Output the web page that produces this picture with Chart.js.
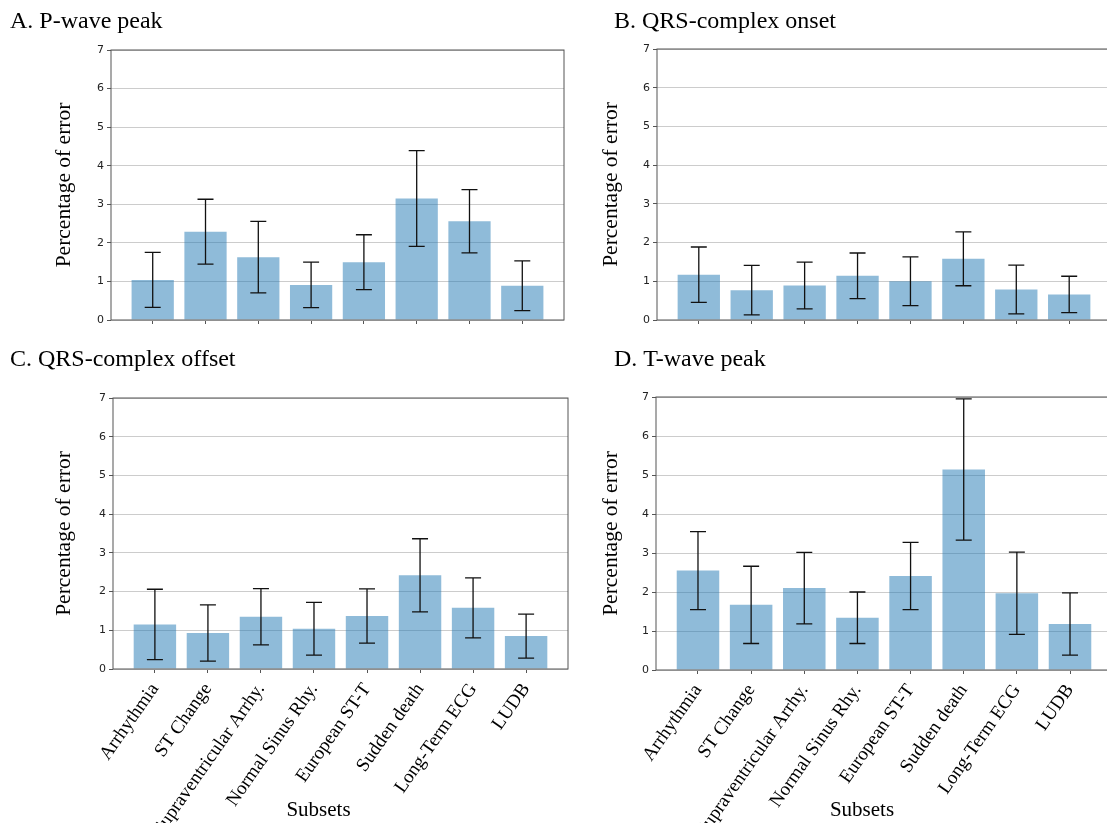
<!DOCTYPE html>
<html>
<head>
<meta charset="utf-8">
<script src="https://cdn.jsdelivr.net/npm/chart.js@4.4.1/dist/chart.umd.min.js"></script>
<style>
  html, body { margin: 0; padding: 0; background: #fff; overflow: hidden; }
  body { width: 1107px; height: 823px; position: relative; }
  canvas { position: absolute; }
</style>
</head>
<body>
<canvas id="chartA" width="580" height="340" style="left:0;top:0"></canvas>
<canvas id="chartB" width="540" height="340" style="left:580px;top:0"></canvas>
<canvas id="chartC" width="580" height="483" style="left:0;top:340px"></canvas>
<canvas id="chartD" width="540" height="483" style="left:580px;top:340px"></canvas>
<script>
const subsets = ['Arrhythmia', 'ST Change', 'Supraventricular Arrhy.', 'Normal Sinus Rhy.',
    'European ST-T', 'Sudden death', 'Long-Term ECG', 'LUDB'];

// mean error and std per subset, one pair per panel
const pWaveMean = [1.04, 2.29, 1.63, 0.91, 1.50, 3.15, 2.56, 0.89];
const pWaveSd = [0.715, 0.84, 0.925, 0.59, 0.71, 1.24, 0.82, 0.645];
const qrsOnMean = [1.17, 0.77, 0.89, 1.14, 1.00, 1.58, 0.79, 0.66];
const qrsOnSd = [0.715, 0.64, 0.605, 0.59, 0.63, 0.695, 0.63, 0.47];
const qrsOffMean = [1.15, 0.93, 1.35, 1.04, 1.37, 2.42, 1.58, 0.85];
const qrsOffSd = [0.91, 0.725, 0.725, 0.68, 0.70, 0.945, 0.775, 0.57];
const tWaveMean = [2.55, 1.67, 2.10, 1.34, 2.41, 5.14, 1.97, 1.18];
const tWaveSd = [1.0, 0.99, 0.915, 0.66, 0.86, 1.81, 1.055, 0.80];

const yTicksMax = 7;

const serif = 'Liberation Serif';

const errorBarPlugin = {
    id: 'errorBars',
    afterDatasetsDraw(chart) {
        const ctx = chart.ctx;
        const y = chart.scales.y;
        chart.data.datasets.forEach((ds, di) => {
            const meta = chart.getDatasetMeta(di);
            meta.data.forEach((bar, i) => {
                const m = ds.data[i].y;
                const e = ds.errors[i];
                const top = y.getPixelForValue(m + e);
                const bot = y.getPixelForValue(m - e);
                const cap = 8;
                ctx.save();
                ctx.strokeStyle = '#111';
                ctx.lineWidth = 1.3;
                ctx.beginPath();
                ctx.moveTo(bar.x, top);
                ctx.lineTo(bar.x, bot);
                ctx.moveTo(bar.x - cap, top);
                ctx.lineTo(bar.x + cap, top);
                ctx.moveTo(bar.x - cap, bot);
                ctx.lineTo(bar.x + cap, bot);
                ctx.stroke();
                ctx.restore();
            });
        });
    }
};

const framePlugin = {
    id: 'frame',
    afterDraw(chart) {
        const {ctx, chartArea: a} = chart;
        ctx.save();
        ctx.strokeStyle = '#555';
        ctx.lineWidth = 1;
        ctx.strokeRect(a.left, a.top, a.right - a.left, a.bottom - a.top);
        ctx.restore();
    }
};

// x axis label, sits a little left of the axes centre like in the source figure
const xLabelPlugin = {
    id: 'xLabel',
    afterDraw(chart, args, opts) {
        if (!opts.text) return;
        const {ctx, chartArea: a} = chart;
        ctx.save();
        ctx.font = `${opts.size}px "${serif}"`;
        ctx.fillStyle = '#000';
        ctx.textAlign = 'center';
        ctx.textBaseline = 'middle';
        ctx.fillText(opts.text, (a.left + a.right) / 2 + opts.shift, chart.height - opts.bottom);
        ctx.restore();
    }
};

function makePanel(id, title, mean, sd, L) {
    const ctx = document.getElementById(id).getContext('2d');
    return new Chart(ctx, {
        type: 'bar',
        data: {
            datasets: [{
                data: mean.map((v, i) => ({ x: i, y: v })),
                errors: sd,
                backgroundColor: 'rgba(31, 119, 180, 0.5)',
                borderWidth: 0,
                barPercentage: 0.8,
                categoryPercentage: 1.0,
            }],
        },
        options: {
            responsive: false,
            animation: false,
            layout: {
                padding: { left: L.padLeft, right: L.padRight, top: 0, bottom: 0 },
            },
            plugins: {
                legend: { display: false },
                tooltip: { enabled: false },
                title: {
                    display: true,
                    text: title,
                    align: 'start',
                    color: '#000',
                    font: { family: serif, size: 24, weight: 'normal' },
                    padding: { top: L.titleTop, bottom: L.titleBottom },
                },
                xLabel: { text: L.showX ? 'Subsets' : '', size: 21, shift: -22, bottom: 13 },
            },
            scales: {
                x: {
                    type: 'linear',
                    min: -0.79,
                    max: subsets.length - 1 + 0.79,
                    bounds: 'data',
                    offset: false,
                    afterBuildTicks: (s) => { s.ticks = subsets.map((_, i) => ({ value: i })); },
                    afterFit: (s) => { s.height = L.xHeight; },
                    grid: { offset: false, drawOnChartArea: false, tickLength: 4, tickColor: '#555' },
                    border: { display: false },
                    ticks: {
                        display: L.showX,
                        autoSkip: false,
                        minRotation: 55,
                        maxRotation: 55,
                        padding: 6,
                        color: '#000',
                        font: { family: serif, size: 19 },
                        callback: (v) => subsets[v],
                    },
                },
                y: {
                    min: 0,
                    max: yTicksMax,
                    afterFit: (s) => { s.width = L.yWidth; },
                    grid: { color: '#cccccc', tickLength: 4, tickColor: '#555' },
                    border: { display: false },
                    ticks: {
                        stepSize: 1,
                        padding: 3,
                        color: '#222',
                        font: { family: 'DejaVu Sans', size: 11 },
                    },
                    title: {
                        display: true,
                        text: 'Percentage of error',
                        color: '#000',
                        font: { family: serif, size: 21.5 },
                        padding: { top: L.yTitlePad, bottom: 0 },
                    },
                },
            },
        },
        plugins: [errorBarPlugin, framePlugin, xLabelPlugin],
    });
}

makePanel('chartA', 'A. P-wave peak', pWaveMean, pWaveSd,
    { padLeft: 10, padRight: 16, yWidth: 101, yTitlePad: 41, titleTop: 7.6, titleBottom: 13.6, xHeight: 20, showX: false });
makePanel('chartB', 'B. QRS-complex onset', qrsOnMean, qrsOnSd,
    { padLeft: 34, padRight: 9, yWidth: 43, yTitlePad: -16, titleTop: 7.6, titleBottom: 12.6, xHeight: 20, showX: false });
makePanel('chartC', 'C. QRS-complex offset', qrsOffMean, qrsOffSd,
    { padLeft: 10, padRight: 12, yWidth: 103, yTitlePad: 41, titleTop: 5.6, titleBottom: 23.6, xHeight: 154, showX: true });
makePanel('chartD', 'D. T-wave peak', tWaveMean, tWaveSd,
    { padLeft: 34, padRight: 8, yWidth: 42, yTitlePad: -16, titleTop: 5.6, titleBottom: 22.6, xHeight: 153, showX: true });
</script>
</body>
</html>
